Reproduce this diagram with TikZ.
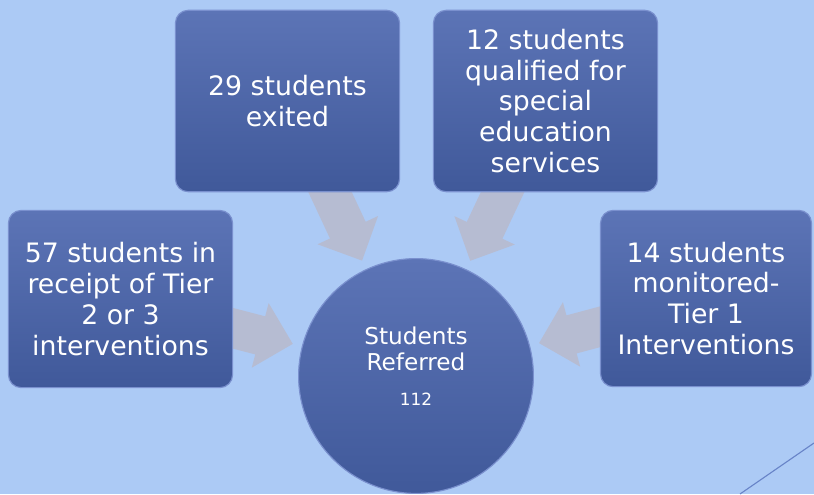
\documentclass[tikz,border=0pt]{standalone}
\usepackage{fontspec}
\setmainfont{DejaVu Sans}
\usetikzlibrary{arrows.meta, backgrounds}
\definecolor{skyback}{RGB}{172,202,245}
\definecolor{boxtop}{RGB}{92,116,182}
\definecolor{boxbottom}{RGB}{64,89,154}
\definecolor{boxedge}{RGB}{122,144,206}
\definecolor{arrowgray}{RGB}{182,188,210}
\definecolor{cornerline}{RGB}{104,132,200}

\begin{document}
\begin{tikzpicture}[x=0.025cm,y=-0.025cm,
    tierbox/.style={rectangle,rounded corners=9pt,top color=boxtop,bottom color=boxbottom,
        draw=boxedge,line width=0.8pt,text=white,align=center,inner sep=0pt,outer sep=0pt,
        font=\fontsize{19}{22}\selectfont},
    hub/.style={circle,top color=boxtop,bottom color=boxbottom,draw=boxedge,line width=0.8pt,
        inner sep=0pt,outer sep=0pt,minimum size=167pt},
    feed/.style={draw=arrowgray,line width=28pt,-{Triangle[length=24pt,width=46pt]},
        shorten <=-12pt,shorten >=7pt}]
    \useasboundingbox (0,0) rectangle (814,494);

    % Add the boxes
        \node[tierbox,minimum width=159.4pt,minimum height=129pt] (exited) at (287.5,101) {29 students\\exited};
        \node[tierbox,minimum width=159.4pt,minimum height=129pt] (qualified) at (545.5,101) {12 students\\qualified for\\special\\education\\services};
        \node[tierbox,minimum width=159.4pt,minimum height=126pt] (tiertwo) at (120.5,299) {57 students in\\receipt of Tier\\2 or 3\\interventions};
        \node[tierbox,minimum width=150pt,minimum height=125.4pt] (tierone) at (706,298.5) {14 students\\monitored-\\Tier 1\\Interventions};

        % The circle in the middle
        \node[hub] (referred) at (416,376) {};
        \node[text=white,align=center,font=\fontsize{16.5}{19}\selectfont] (referredtext) at (416,366)
            {Students\\Referred\\[5.5pt]\fontsize{12}{14}\selectfont 112};

        \draw[cornerline,line width=0.8pt] (740,494) -- (814,443);

        % Connect the boxes with the circle
        \begin{scope}[on background layer]
            \fill[skyback] (0,0) rectangle (814,494);
            \draw[feed] (exited) -- (referred);
            \draw[feed] (qualified) -- (referred);
            \draw[feed] (tiertwo) -- (referred);
            \draw[feed] (tierone) -- (referred);
        \end{scope}
    \end{tikzpicture}
\end{document}
